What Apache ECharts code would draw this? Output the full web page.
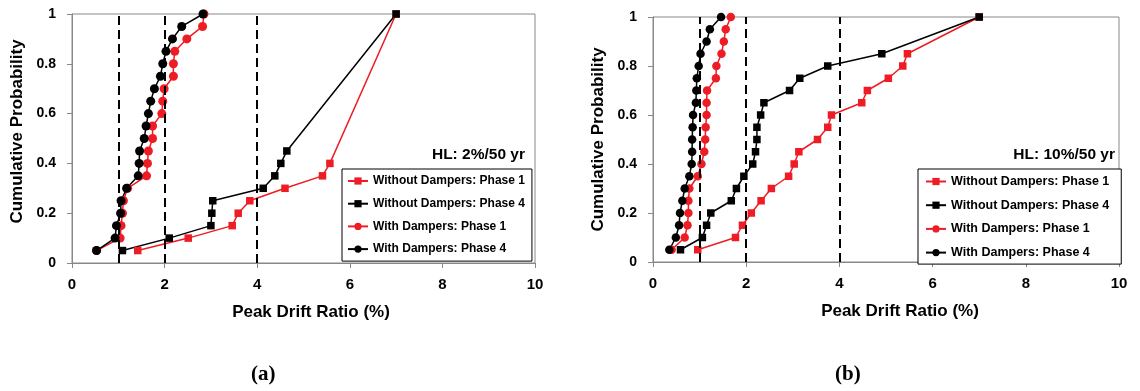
<!DOCTYPE html>
<html>
<head>
<meta charset="utf-8">
<script src="https://cdn.jsdelivr.net/npm/echarts@6/dist/echarts.min.js"></script>
<style>
html,body{margin:0;padding:0;background:#fff;}
#c{width:1140px;height:391px;}
</style>
</head>
<body>
<div id="c"></div>
<script>
// ---- data ----
const seriesNames = ['Without Dampers: Phase 1','Without Dampers: Phase 4','With Dampers: Phase 1','With Dampers: Phase 4'];
const probFull = [0.05,0.10,0.15,0.20,0.25,0.30,0.35,0.40,0.45,0.50,0.55,0.60,0.65,0.70,0.75,0.80,0.85,0.90,0.95,1.00];
const thresholds = [1,2,4];
const xTicks = [0,2,4,6,8,10];
const yTicks = [0,0.2,0.4,0.6,0.8,1];

// (a) HL: 2%/50 yr
const a_woP1_x = [1.42,2.51,3.46,3.59,3.84,4.60,5.41,5.57,7.00];
const a_woP1_p = [0.05,0.10,0.15,0.20,0.25,0.30,0.35,0.40,1.00];
const a_woP4_x = [1.09,2.10,3.00,3.02,3.04,4.13,4.38,4.51,4.64,7.00];
const a_woP4_p = [0.05,0.10,0.15,0.20,0.25,0.30,0.35,0.40,0.45,1.00];
const a_wP1_x = [0.53,1.04,1.06,1.09,1.11,1.20,1.61,1.63,1.65,1.74,1.74,1.94,1.96,1.99,2.19,2.19,2.22,2.48,2.82,2.85];
const a_wP4_x = [0.53,0.93,0.96,1.05,1.06,1.18,1.43,1.45,1.46,1.56,1.60,1.65,1.70,1.78,1.91,1.96,2.03,2.17,2.37,2.83];

// (b) HL: 10%/50 yr
const b_wo_p = [0.05,0.10,0.15,0.20,0.25,0.30,0.35,0.40,0.45,0.50,0.55,0.60,0.65,0.70,0.75,0.80,0.85,1.00];
const b_woP1_x = [0.96,1.77,1.92,2.11,2.32,2.54,2.91,3.03,3.13,3.53,3.75,3.83,4.48,4.60,5.05,5.36,5.46,7.00];
const b_woP4_x = [0.59,1.06,1.15,1.24,1.68,1.79,1.95,2.14,2.20,2.23,2.23,2.31,2.38,2.93,3.15,3.75,4.91,7.00];
const b_wP1_x = [0.40,0.68,0.74,0.76,0.76,0.78,0.96,1.04,1.10,1.12,1.13,1.15,1.15,1.16,1.35,1.36,1.47,1.52,1.56,1.67];
const b_wP4_x = [0.35,0.49,0.56,0.58,0.63,0.68,0.78,0.83,0.84,0.84,0.85,0.86,0.92,0.93,0.94,0.98,1.02,1.15,1.22,1.46];

const hazardLabels = ['HL: 2%/50 yr','HL: 10%/50 yr'];
const panelLabels = ['(a)','(b)'];

// ---- helpers ----
const RED = '#ee1c24', BLACK = '#000000', GRAY = '#888888';
const FONT = 'Liberation Sans, Arial, sans-serif';
function pairs(xs, ps){ return xs.map((x,i)=>[x, ps[i]]); }

function mkSeries(name, data, gi, color, symbol, size){
  return {
    name, type:'line', xAxisIndex:gi, yAxisIndex:gi, data,
    symbol, symbolSize:size, showSymbol:true,
    lineStyle:{color, width:1.5}, itemStyle:{color},
    emphasis:{disabled:true}, z:3
  };
}
function dashSeries(gi){
  return {
    name:'thr'+gi, type:'line', xAxisIndex:gi, yAxisIndex:gi, data:[], z:2,
    markLine:{silent:true, symbol:'none', label:{show:false},
      lineStyle:{color:'#000', width:2, type:[9,5]},
      data: thresholds.map(v=>({xAxis:v}))}
  };
}
function xAxisCfg(gi, pad){
  return {
    gridIndex:gi, type:'value', min:xTicks[0], max:xTicks[xTicks.length-1], interval:xTicks[1]-xTicks[0],
    name:'Peak Drift Ratio (%)', nameLocation:'middle', nameGap:41,
    nameTextStyle:{fontFamily:FONT, fontWeight:'bold', fontSize:17, color:'#000', padding:[0,0,0,pad]},
    axisLine:{show:true, lineStyle:{color:GRAY, width:1}},
    axisTick:{show:true, length:5, lineStyle:{color:GRAY}},
    axisLabel:{fontFamily:FONT, fontWeight:'bold', fontSize:15, color:'#000', margin:14},
    splitLine:{show:false}
  };
}
function yAxisCfg(gi, pad){
  return {
    gridIndex:gi, type:'value', min:yTicks[0], max:yTicks[yTicks.length-1], interval:yTicks[1]-yTicks[0],
    name:'Cumulative Probability', nameLocation:'middle', nameGap:46,
    nameTextStyle:{fontFamily:FONT, fontWeight:'bold', fontSize:17, color:'#000', padding:[0,0,0,pad]},
    axisLine:{show:true, lineStyle:{color:GRAY, width:1}},
    axisTick:{show:true, length:5, lineStyle:{color:GRAY}},
    axisLabel:{fontFamily:FONT, fontWeight:'bold', fontSize:14, color:'#000', margin:16},
    splitLine:{show:false}
  };
}
function legendCfg(left, fs, padding){
  return {
    data: seriesNames, orient:'vertical', left, top:169,
    itemWidth:20, itemHeight:9, itemGap:10.7, padding,
    borderColor:'#000', borderWidth:1, backgroundColor:'#fff',
    selectedMode:false,
    textStyle:{fontFamily:FONT, fontWeight:'bold', fontSize:fs, color:'#000'}
  };
}

const option = {
  animation:false,
  backgroundColor:'#fff',
  grid:[
    {left:72, top:14, width:463, height:249, show:true, borderColor:GRAY, borderWidth:1},
    {left:653, top:17, width:466, height:245, show:true, borderColor:GRAY, borderWidth:1}
  ],
  xAxis:[xAxisCfg(0,15), xAxisCfg(1,28)],
  yAxis:[yAxisCfg(0,14), yAxisCfg(1,0)],
  legend:[legendCfg(342,12,[6,7,6,5]), legendCfg(918,12.5,[6,12,5,7])],
  graphic:[
    {type:'text', right:1140-525, top:147, style:{text:hazardLabels[0], font:'bold 15.5px '+FONT, fill:'#000'}},
    {type:'text', right:1140-1115, top:147, style:{text:hazardLabels[1], font:'bold 15.5px '+FONT, fill:'#000'}},
    {type:'text', left:251, top:364, style:{text:panelLabels[0], font:'bold 21px Liberation Serif, Times New Roman, serif', fill:'#000'}},
    {type:'text', left:835, top:364, style:{text:panelLabels[1], font:'bold 21px Liberation Serif, Times New Roman, serif', fill:'#000'}}
  ],
  series:[
    dashSeries(0),
    mkSeries(seriesNames[0], pairs(a_woP1_x,a_woP1_p), 0, RED, 'rect', 7.5),
    mkSeries(seriesNames[1], pairs(a_woP4_x,a_woP4_p), 0, BLACK, 'rect', 7.5),
    mkSeries(seriesNames[2], pairs(a_wP1_x,probFull), 0, RED, 'circle', 9),
    mkSeries(seriesNames[3], pairs(a_wP4_x,probFull), 0, BLACK, 'circle', 9),
    dashSeries(1),
    mkSeries(seriesNames[0], pairs(b_woP1_x,b_wo_p), 1, RED, 'rect', 7.5),
    mkSeries(seriesNames[1], pairs(b_woP4_x,b_wo_p), 1, BLACK, 'rect', 7.5),
    mkSeries(seriesNames[2], pairs(b_wP1_x,probFull), 1, RED, 'circle', 8.5),
    mkSeries(seriesNames[3], pairs(b_wP4_x,probFull), 1, BLACK, 'circle', 8.5)
  ]
};
const chart = echarts.init(document.getElementById('c'), null, {renderer:'canvas'});
chart.setOption(option);
</script>
</body>
</html>
